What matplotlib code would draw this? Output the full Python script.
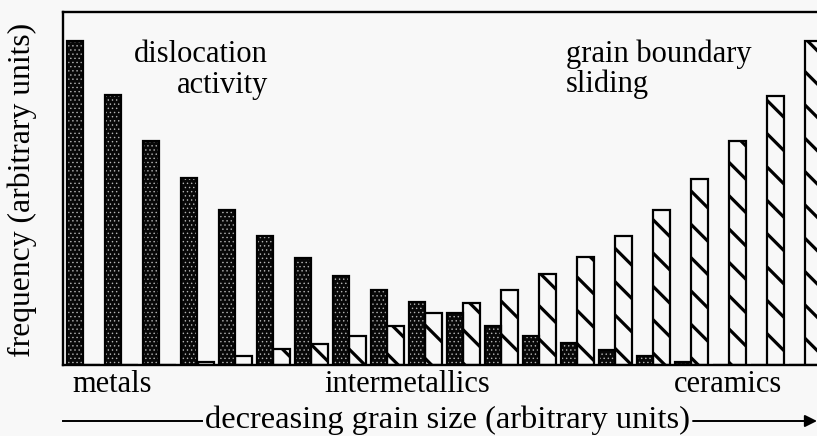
import matplotlib
matplotlib.use("Agg")
import matplotlib.pyplot as plt
import numpy as np

# ---- data (arbitrary units) ----
groups = list(range(20))
dislocation = [91.8, 76.5, 63.5, 53.0, 43.9, 36.5, 30.3, 25.2, 21.2, 17.8,
               14.7, 11.0, 8.2, 6.2, 4.2, 2.5, 0.8, 0.0, 0.0, 0.0]
gbs = [0.0, 0.0, 0.0, 0.8, 2.5, 4.5, 6.0, 8.2, 11.0, 14.7,
       17.6, 21.2, 25.8, 30.6, 36.5, 43.9, 52.7, 63.5, 76.2, 91.8]
class_labels = ["metals", "intermetallics", "ceramics"]
class_pos = [-0.06, 8.73, 17.19]

plt.rcParams['font.family'] = ['Liberation Serif', 'DejaVu Serif']

W, H = 817, 436
fig = plt.figure(figsize=(W / 100, H / 100), dpi=100)
bg = '#f8f8f8'
fig.patch.set_facecolor(bg)

ax = fig.add_axes([63 / W, (H - 365) / H, (827.6 - 63) / W, 353 / H])
ax.set_facecolor(bg)

x = np.array(groups, dtype=float)
w = 0.43

# dark stippled bars (dislocation activity)
with plt.rc_context({'hatch.linewidth': 0.5}):
    dk = ax.bar(x, dislocation, width=w, color='#080808', edgecolor='#b5b5b5',
                linewidth=0, hatch='....', zorder=2)
    for p in dk:
        if hasattr(p, 'set_hatch_linewidth'):
            p.set_hatch_linewidth(0.5)
ax.bar(x, dislocation, width=w, fill=False, edgecolor='black',
       linewidth=1.6, zorder=3)
# hatched bars (grain boundary sliding)
with plt.rc_context({'hatch.linewidth': 2.3}):
    hb = ax.bar(x + w, gbs, width=w, facecolor=bg, edgecolor='black',
                linewidth=1.6, hatch='\\', zorder=2)
    for p in hb:
        if hasattr(p, 'set_hatch_linewidth'):
            p.set_hatch_linewidth(2.3)

ax.set_xlim(-0.32, 19.8)
ax.set_ylim(0, 100)
ax.set_xticks([])
ax.set_yticks([])
for s in ['left', 'top', 'bottom']:
    ax.spines[s].set_linewidth(1.7)
ax.spines['right'].set_visible(False)

fs = 22
tr = ax.get_xaxis_transform()
ax.text(5.07, 0.859, "dislocation", transform=tr, ha='right', va='baseline', fontsize=fs)
ax.text(5.07, 0.771, "activity", transform=tr, ha='right', va='baseline', fontsize=fs)
ax.text(12.92, 0.859, "grain boundary", transform=tr, ha='left', va='baseline', fontsize=fs)
ax.text(12.92, 0.774, "sliding", transform=tr, ha='left', va='baseline', fontsize=fs)

ax.text(class_pos[0], -0.0756, class_labels[0], transform=tr, ha='left', va='baseline', fontsize=fs, clip_on=False)
ax.text(class_pos[1], -0.0756, class_labels[1], transform=tr, ha='center', va='baseline', fontsize=fs, clip_on=False)
ax.text(class_pos[2], -0.0756, class_labels[2], transform=tr, ha='center', va='baseline', fontsize=fs, clip_on=False)

fig.text(22 / W, 1 - 190 / H, "frequency (arbitrary units)", rotation=90,
         ha='center', va='center', fontsize=22.8)

fig.text(447.5 / W, 1 - 428 / H, "decreasing grain size (arbitrary units)",
         ha='center', va='baseline', fontsize=23.4)
yl = H - 421
fig.add_artist(plt.Line2D([63 / W, 202 / W], [yl / H, yl / H], color='black', lw=1.4))
ax.annotate('', xy=(817, yl), xytext=(693, yl), xycoords='figure pixels',
            textcoords='figure pixels',
            arrowprops=dict(arrowstyle='-|>', color='black', lw=1.4,
                            mutation_scale=18, shrinkA=0, shrinkB=0))

fig.savefig('out.png', dpi=100, facecolor=bg)
